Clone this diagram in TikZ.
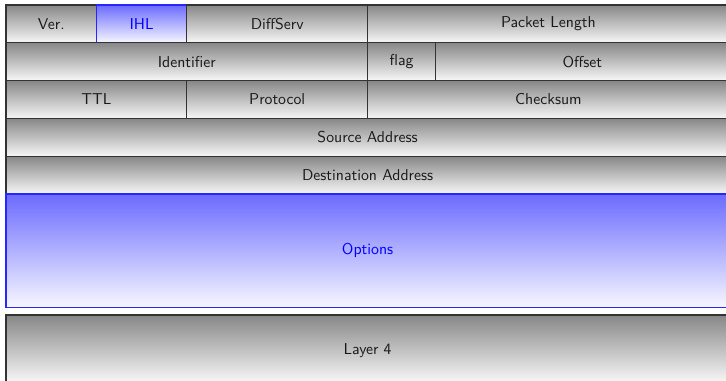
\documentclass[tikz,border=0pt]{standalone}
\usetikzlibrary{positioning}
\newcommand\pxu{0.66pt}
\begin{document}
\begin{tikzpicture}[x=\pxu,y=\pxu,
  fieldbox/.style={rectangle, draw=black!80, line width=0.9pt, inner sep=0pt, outer sep=0pt,
    anchor=north west, top color=black!47, bottom color=black!3, text=black!90,
    font=\sffamily\fontsize{10.4}{12}\selectfont},
  bluebox/.style={fieldbox, draw=blue!85, top color=blue!58, bottom color=blue!3, text=blue}]
\useasboundingbox (0,0) rectangle (726,-381);
\clip (0,0) rectangle (726,-381);
% one header field: style, name, left, top, width, height, label
\newcommand\fld[7][fieldbox]{\node[#1, minimum width=#5*\pxu, minimum height=#6*\pxu] (#2) at (#3,#4) {#7};}
% row 1
\fld{ver}{6}{-5}{90.4}{37.8}{Ver.}
\fld[bluebox]{ihl}{96.4}{-5}{90.4}{37.8}{IHL}
\fld{ds}{186.8}{-5}{180.8}{37.8}{DiffServ}
\fld{len}{367.6}{-5}{361.6}{37.8}{Packet Length}
% row 2
\fld{ident}{6}{-42.8}{361.6}{37.8}{Identifier}
\fld{flag}{367.6}{-42.8}{67.8}{37.8}{flag}
\fld{off}{435.4}{-42.8}{293.8}{37.8}{Offset}
% row 3
\fld{ttl}{6}{-80.6}{180.8}{37.8}{TTL}
\fld{proto}{186.8}{-80.6}{180.8}{37.8}{Protocol}
\fld{csum}{367.6}{-80.6}{361.6}{37.8}{Checksum}
% rows 4 and 5
\fld{src}{6}{-118.4}{723.2}{37.8}{Source Address}
\fld{dst}{6}{-156.2}{723.2}{37.8}{Destination Address}
% options
\fld[bluebox]{opt}{6}{-194}{723.2}{113.4}{Options}
% payload
\fld[fieldbox, bottom color=white]{l4}{6}{-315}{723.2}{72}{Layer 4}
\end{tikzpicture}
\end{document}
